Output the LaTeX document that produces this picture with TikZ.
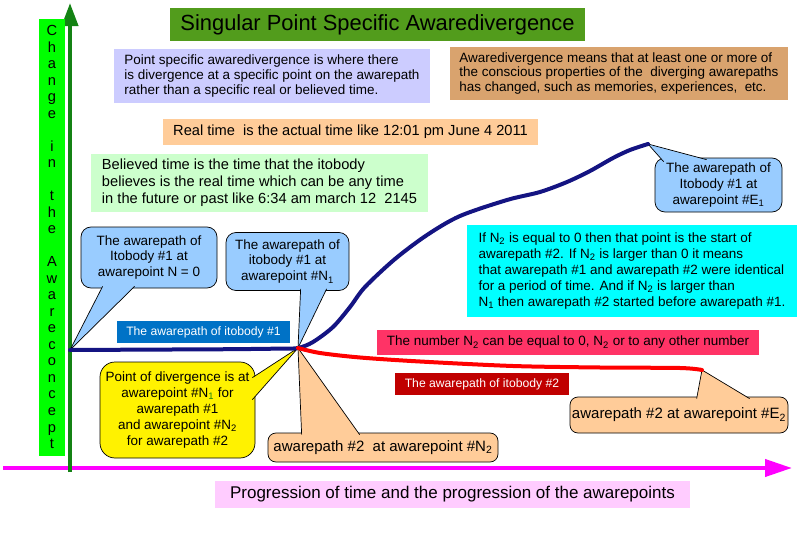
\documentclass[tikz,border=0pt]{standalone}
\usepackage{fontspec}
\setmainfont{Liberation Sans}
\usetikzlibrary{arrows.meta,calc}

\newlength\pxu
\setlength\pxu{0.03cm}

\definecolor{titlegreen}{RGB}{82,156,28}
\definecolor{labelgreen}{RGB}{0,255,0}
\definecolor{axisgreen}{RGB}{20,130,20}
\definecolor{axismagenta}{RGB}{255,0,255}
\definecolor{lavender}{RGB}{204,204,255}
\definecolor{tannote}{RGB}{217,163,110}
\definecolor{peach}{RGB}{255,204,153}
\definecolor{mint}{RGB}{204,255,204}
\definecolor{cyannote}{RGB}{0,255,255}
\definecolor{bubbleblue}{RGB}{153,204,255}
\definecolor{tagblue}{RGB}{0,114,198}
\definecolor{tagred}{RGB}{192,0,0}
\definecolor{pinknote}{RGB}{255,51,102}
\definecolor{lightpink}{RGB}{255,204,255}
\definecolor{pathnavy}{RGB}{20,20,130}
\definecolor{pathred}{RGB}{255,0,0}

\tikzset{
  notebox/.style={rectangle, inner sep=0pt, align=left, font=\fontsize{11.5}{12.4}\selectfont},
  tagbox/.style={rectangle, inner sep=0pt, text=white, font=\fontsize{10.4}{12}\selectfont},
  bubble/.style={rectangle, rounded corners=10\pxu, draw=black, line width=0.6pt, inner sep=0pt,
    align=center, font=\fontsize{11.5}{13.6}\selectfont},
  pointer/.style={draw=black, line width=0.6pt},
  awarepath/.style={line width=4\pxu, line cap=round, line join=round},
}

\begin{document}
\begin{tikzpicture}[x=0.03cm,y=-0.03cm]
  \useasboundingbox (0,0) rectangle (800,533);
  % axes
  \draw[axismagenta, line width=4\pxu, -{Triangle[width=0.51cm,length=0.81cm]}] (3,468) -- (792,468);
  \draw[axisgreen, line width=4\pxu, -{Triangle[width=0.48cm,length=0.69cm]}] (70,472) -- (70,3);
  \node[rectangle, fill=labelgreen, minimum width=26\pxu, minimum height=437\pxu, inner sep=0pt,
    align=center, font=\fontsize{12.5}{14.1}\selectfont] (changelabel) at (52,237)
    {C\\h\\a\\n\\g\\e\\~\\i\\n\\~\\t\\h\\e\\~\\A\\w\\a\\r\\e\\c\\o\\n\\c\\e\\p\\t};
  \node[rectangle, inner sep=0pt, fill=lightpink, minimum width=475\pxu, minimum height=27\pxu,
    font=\fontsize{14.5}{16}\selectfont] (progression) at (452.5,494.5)
    {Progression of time and the progression of the awarepoints};

  % notes
  \node[rectangle, inner sep=0pt, fill=titlegreen, minimum width=415\pxu, minimum height=33\pxu,
    font=\fontsize{18.7}{20}\selectfont] (title) at (377.5,24.5) {Singular Point Specific Awaredivergence};
  \node[notebox, fill=lavender, minimum width=316\pxu, minimum height=54\pxu] (pointnote) at (272,76)
    {Point specific awaredivergence is where there\\
     is divergence at a specific point on the awarepath\\
     rather than a specific real or believed time.};
  \node[notebox, fill=tannote, minimum width=338\pxu, minimum height=53\pxu] (awarenote) at (619,73.5)
    {Awaredivergence means that at least one or more of\\
     the conscious properties of the\ \ diverging awarepaths\\
     has changed, such as memories, experiences,\ \ etc.};
  \node[notebox, fill=peach, minimum width=375\pxu, minimum height=26\pxu,
    font=\fontsize{12.5}{14}\selectfont] (realtime) at (350.5,132)
    {Real time\ \ is the actual time like 12:01 pm June 4 2011};
  \node[notebox, fill=mint, minimum width=337\pxu, minimum height=58\pxu,
    font=\fontsize{12.5}{14.5}\selectfont] (believed) at (259.5,183)
    {Believed time is the time that the itobody\\
     believes is the real time which can be any time\\
     in the future or past like 6:34 am march 12\ \ 2145};
  \node[notebox, fill=cyannote, minimum width=330\pxu, minimum height=92\pxu,
    font=\fontsize{11.5}{13.6}\selectfont] (cyannote) at (632,271)
    {If N\textsubscript{2} is equal to 0 then that point is the start of\\
     awarepath \#2. If N\textsubscript{2} is larger than 0 it means\\
     that awarepath \#1 and awarepath \#2 were identical\\
     for a period of time. And if N\textsubscript{2} is larger than\\
     N\textsubscript{1} then awarepath \#2 started before awarepath \#1.};
  \node[notebox, fill=pinknote, minimum width=382\pxu, minimum height=25\pxu] (numbernote) at (568,342.5)
    {The number N\textsubscript{2} can be equal to 0, N\textsubscript{2} or to any other number};
  \node[tagbox, fill=tagblue, minimum width=173\pxu, minimum height=22\pxu] (pathonetag) at (203.5,332)
    {The awarepath of itobody \#1};
  \node[tagbox, fill=tagred, minimum width=174\pxu, minimum height=22\pxu] (pathtwotag) at (482,384)
    {The awarepath of itobody \#2};

  \coordinate (start) at (70,350);
  \coordinate (div) at (298,348);
  \coordinate (endone) at (648,144);
  \coordinate (endtwo) at (702,370);

  % callouts
  \node[bubble, fill=bubbleblue, minimum width=136\pxu, minimum height=61\pxu] (czero) at (149,257.5)
    {The awarepath of\\Itobody \#1 at\\awarepoint N = 0};
  \draw[pointer, fill=bubbleblue] ($(czero.south west)+(22,-2)$) -- (start) -- ($(czero.south west)+(54,-2)$);
  \node[bubble, fill=bubbleblue, minimum width=123\pxu, minimum height=58\pxu] (cone) at (287.5,261.5)
    {The awarepath of\\itobody \#1 at\\awarepoint \#N\textsubscript{1}};
  \draw[pointer, fill=bubbleblue] ($(cone.south west)+(75,-2)$) -- (div) -- ($(cone.south west)+(101,-2)$);
  \node[bubble, fill=bubbleblue, minimum width=127\pxu, minimum height=54\pxu] (ceone) at (718.5,185)
    {The awarepath of\\Itobody \#1 at\\awarepoint \#E\textsubscript{1}};
  \draw[pointer, fill=bubbleblue] ($(ceone.north west)+(9,4)$) -- (endone) -- ($(ceone.north west)+(52,2)$);
  \node[bubble, rounded corners=15\pxu, fill=yellow, minimum width=155\pxu, minimum height=96\pxu] (cdiv) at (177.5,410)
    {Point of divergence is at\\awarepoint \#N\textsubscript{\color{axisgreen}1} for\\awarepath \#1\\
     and awarepoint \#N\textsubscript{2}\\for awarepath \#2};
  \draw[pointer, fill=yellow] ($(cdiv.north east)+(-3,16)$) -- (div) -- ($(cdiv.north east)+(-3,38)$);
  \node[bubble, rounded corners=8\pxu, fill=peach, minimum width=230\pxu, minimum height=29\pxu,
    font=\fontsize{12.8}{14}\selectfont] (cntwo) at (383,447.5)
    {awarepath \#2\ \ at awarepoint \#N\textsubscript{2}};
  \draw[pointer, fill=peach] ($(cntwo.north west)+(34,2)$) -- (div) -- ($(cntwo.north west)+(92,2)$);
  \node[bubble, rounded corners=8\pxu, fill=peach, minimum width=218\pxu, minimum height=36\pxu,
    font=\fontsize{12.8}{14}\selectfont] (cetwo) at (679,415)
    {awarepath \#2 at awarepoint \#E\textsubscript{2}};
  \draw[pointer, fill=peach] ($(cetwo.north west)+(127,2)$) -- (endtwo) -- ($(cetwo.north west)+(180,2)$);

  % the two awarepaths
  \draw[awarepath, pathnavy] plot[smooth] coordinates {(start) (150,349.6) (230,349.2) (280,348.6) (div)
    (313,342) (333,327) (350,307) (365,287) (395,259) (427,235) (460,216) (507,200) (540,192)
    (567,182) (590,171) (613,158) (630,150) (endone)};
  \draw[awarepath, pathred] plot[smooth] coordinates {(div) (320,353) (360,357.5) (420,361.5)
    (513,366) (600,367.5) (680,368) (endtwo)};
\end{tikzpicture}
\end{document}
